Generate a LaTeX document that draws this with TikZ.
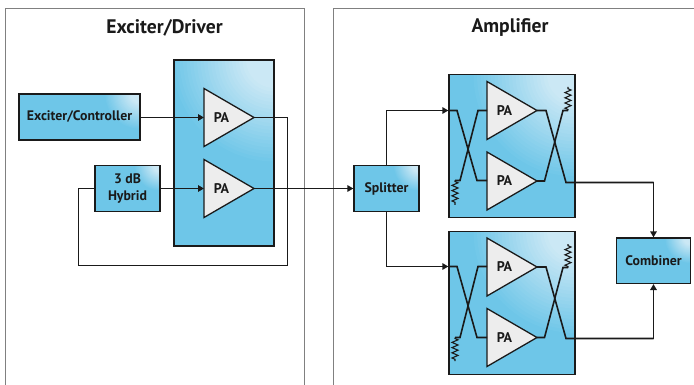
\documentclass[tikz,border=0pt]{standalone}
\usepackage{fontspec}
\setmainfont{PT Sans}
\usetikzlibrary{arrows.meta,calc,decorations.pathmorphing}
\definecolor{bluefill}{HTML}{6EC6E8}
\definecolor{glow}{HTML}{CBE8F5}
\definecolor{pafill}{HTML}{EDEDED}
\definecolor{ink}{HTML}{1A1A1A}
\tikzset{
  x=1pt,y=-1pt,
  panel/.style={draw=black!50,line width=1pt},
  paneltitle/.style={font=\fontsize{19.6}{21}\selectfont\bfseries,inner sep=0pt,text=ink},
  blockbox/.style={draw=ink,line width=1.3pt,inner sep=0pt,fill=bluefill,
    font=\fontsize{13.8}{17}\selectfont\bfseries,text=ink,align=center,
    path picture={
      \foreach \k in {0,...,29}{
        \pgfmathsetmacro{\rr}{#1*(1-\k/30)}
        \pgfmathsetmacro{\mixp}{min(100,\k*100/22)}
        \fill[glow!\mixp!bluefill] (path picture bounding box.north east) circle[radius=\rr pt];
      }}},
  blockbox/.default=36,
  pa/.style={draw=ink,line width=1.3pt,fill=pafill,line join=miter},
  palabel/.style={font=\fontsize{14}{15}\selectfont\bfseries,inner sep=0pt,text=ink},
  wire/.style={draw=ink,line width=1.6pt},
  arrowwire/.style={wire,-{Triangle[length=6pt,width=6.5pt]}},
  res/.style={draw=ink,line width=1.1pt,decorate,decoration={zigzag,segment length=5.2pt,amplitude=3pt,pre length=1pt,post length=1pt}}
}
% amplifier triangle: #1 name, #2 left x, #3 centre y
\newcommand{\patri}[3]{%
  \draw[pa] (#2,#3-29) -- (#2+50,#3) -- (#2,#3+29) -- cycle;
  \coordinate (#1in) at (#2,#3);
  \coordinate (#1out) at (#2+50,#3);
  \node[palabel] (#1lab) at (#2+17.5,#3) {PA};
}
\begin{document}
\begin{tikzpicture}
\useasboundingbox (0,0) rectangle (694,385);
\fill[white] (0,0) rectangle (694,385);
% panels
\draw[panel] (5,385) -- (5,9) -- (304,9) -- (304,385);
\draw[panel] (333,385) -- (333,9) -- (694,9);
\node[paneltitle] (t1) at (164.5,27.5) {Exciter/Driver};
\node[paneltitle] (t2) at (510,27.5) {Amplifier};
% blue blocks
\node[blockbox=105,minimum width=100pt,minimum height=186pt] (drv) at (224,153) {};
\node[blockbox=105,minimum width=126pt,minimum height=143pt] (a1) at (512,146.3) {};
\node[blockbox=105,minimum width=126pt,minimum height=143pt] (a2) at (512,303) {};
\node[blockbox,minimum width=121pt,minimum height=46pt] (ec) at (79.5,117) {Exciter/Controller};
\node[blockbox=26,minimum width=65pt,minimum height=46pt] (hy) at (127.5,188.5) {3 dB\\Hybrid};
\node[blockbox=26,minimum width=65pt,minimum height=46pt] (sp) at (386.5,188.5) {Splitter};
\node[blockbox=26,minimum width=73.6pt,minimum height=45.4pt] (co) at (653.5,260.7) {Combiner};
% driver PAs
\patri{d1}{204}{117.5}
\patri{d2}{204}{188.5}
\draw[arrowwire] (ec.east |- d1in) -- (d1in);
\draw[arrowwire] (hy.east |- d2in) -- (d2in);
\draw[wire] (d1out) -- (287.5,117.5) -- (287.5,265.5) -- (78.5,265.5) -- (78.5,188.5) -- (hy.west |- 0,188.5);
\draw[arrowwire] (d2out) -- (sp.west);
% amplifier 1
\patri{a}{487}{110.5}
\patri{b}{487}{181}
\draw[arrowwire] (sp.north) |- (a1.west |- 0,110.5);
\draw[wire] (a1.west |- 0,110.5) -- (457,110.5) -- (477,180.5) -- (487,180.5);
\draw[wire] (487,110.5) -- (478,110.5) -- (460,180.5) -- (455,180.5) coordinate (r1);
\draw[res] (r1) -- (455,205);
\draw[wire] (aout) -- (546,110.5) -- (566,182.5) -- (co.north |- 0,182.5) coordinate (c1);
\draw[arrowwire] (c1) -- (co.north);
\draw[wire] (bout) -- (544.5,181) -- (563,110.5) -- (568,110.5) coordinate (r2);
\draw[res] (r2) -- (568,87);
% amplifier 2
\patri{c}{487}{267}
\patri{e}{487}{337.5}
\draw[arrowwire] (sp.south) |- (a2.west |- 0,266.5);
\draw[wire] (a2.west |- 0,266.5) -- (457,266.5) -- (477,337.5) -- (487,337.5);
\draw[wire] (487,266.5) -- (478,266.5) -- (460,337.5) -- (455,337.5) coordinate (r3);
\draw[res] (r3) -- (455,361);
\draw[wire] (cout) -- (546,267) -- (566,338.5) -- (co.south |- 0,338.5) coordinate (c2);
\draw[arrowwire] (c2) -- (co.south);
\draw[wire] (eout) -- (544.5,337.5) -- (563,267.5) -- (568,267.5) coordinate (r4);
\draw[res] (r4) -- (568,244);
\end{tikzpicture}
\end{document}
